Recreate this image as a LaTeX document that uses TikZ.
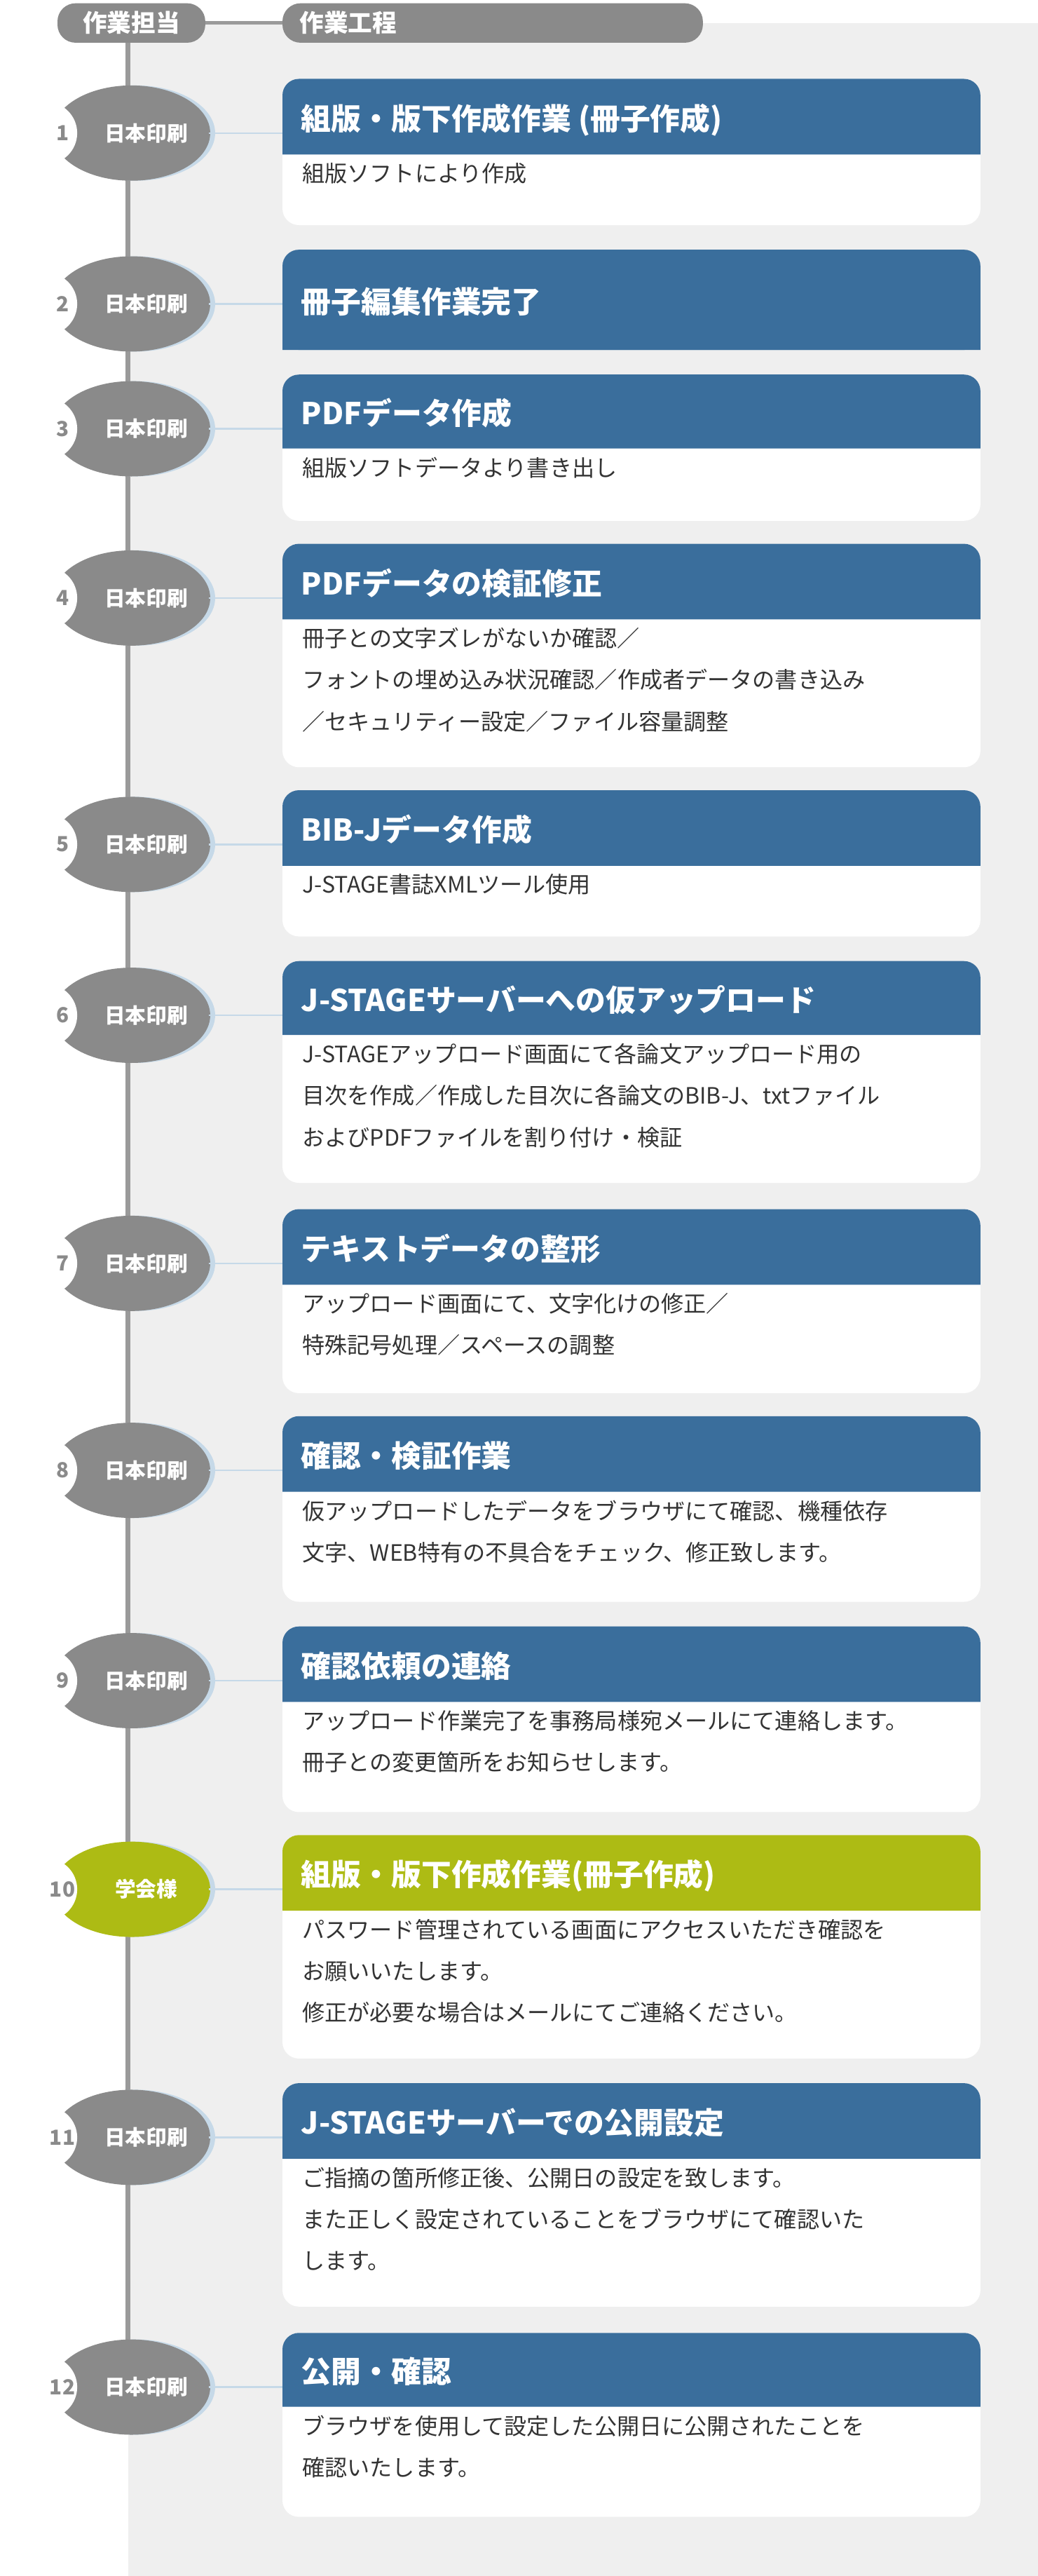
\documentclass[tikz,border=0pt]{standalone}
\usepackage{fontspec}
\setmainfont{Noto Sans CJK JP}
\usepackage{tikz}
\usetikzlibrary{positioning}
\definecolor{pillgray}{HTML}{8A8A8A}
\definecolor{linegray}{HTML}{9A9A9A}
\definecolor{bggray}{HTML}{EFEFEF}
\definecolor{stepblue}{HTML}{3A6E9C}
\definecolor{stepgreen}{HTML}{ADBB14}
\definecolor{shadowblue}{HTML}{C6D9E8}
\definecolor{bodytext}{HTML}{333333}
\tikzset{
  pilltext/.style={text=white, font=\fontsize{21}{21}\selectfont\bfseries},
  whotext/.style={text=white, font=\fontsize{18}{18}\selectfont\bfseries},
  numtext/.style={text=pillgray, font=\fontsize{18}{18}\selectfont\bfseries},
  titletext/.style={text=white, anchor=base west, font=\fontsize{26}{26}\selectfont\bfseries},
  bodytextstyle/.style={text=bodytext, anchor=north west, align=left, inner sep=0pt, font=\fontsize{19.5}{36}\selectfont},
}
% #1 number, #2 box top, #3 header bottom, #4 box bottom, #5 who, #6 box colour, #7 title, #8 body, #9 ellipse colour
\newcommand{\procstep}[9]{
  \pgfmathsetmacro{\ey}{#2+33}
  \fill[shadowblue] (83,\ey) ellipse (48 and 29);
  \fill[#9] (80,\ey) ellipse (48 and 29);
  \fill[white] (28,\ey) circle (19);
  \node[whotext] (e#1) at (89,\ey) {#5};
  \node[numtext] (n#1) at (38,\ey) {#1};
  \coordinate (c#1) at (127,\ey);
  \fill[white, rounded corners=0.5cm] (172,#2) rectangle (597,#4);
  \fill[#6] (172,#3) [rounded corners=0.5cm] -- (172,#2) -- (597,#2) [sharp corners] -- (597,#3) -- cycle;
  \node[titletext] (h#1) at (181,{(#2+#3)/2+8}) {#7};
  \node[bodytextstyle] (d#1) at (184,#3+5) {#8};
  \draw[shadowblue, line width=1.5pt] (c#1) -- (c#1 -| 172,0);
}
\begin{document}
\begin{tikzpicture}[x=0.05cm, y=-0.05cm]
\useasboundingbox (0,0) rectangle (632,1568);
\fill[bggray] (78,14) rectangle (632,1568);
% header
\draw[linegray, line width=3pt] (125,14) -- (172,14);
\draw[linegray, line width=4pt] (78,26) -- (78,1452);
\fill[pillgray, rounded corners=0.55cm] (35,2) rectangle (125,26);
\fill[pillgray, rounded corners=0.55cm] (172,2) rectangle (428,26);
\node[pilltext] (who) at (80,14) {作業担当};
\node[pilltext, anchor=west] (proc) at (180,14) {作業工程};
% steps
\procstep{1}{48}{94}{137}{日本印刷}{stepblue}{組版・版下作成作業 (冊子作成)}{組版ソフトにより作成}{pillgray}
\fill[stepblue, rounded corners=0.5cm] (172,152) rectangle (597,213);
\procstep{2}{152}{213}{213}{日本印刷}{stepblue}{冊子編集作業完了}{}{pillgray}
\procstep{3}{228}{273}{317}{日本印刷}{stepblue}{PDFデータ作成}{組版ソフトデータより書き出し}{pillgray}
\procstep{4}{331}{377}{467}{日本印刷}{stepblue}{PDFデータの検証修正}{冊子との文字ズレがないか確認／\\フォントの埋め込み状況確認／作成者データの書き込み\\／セキュリティー設定／ファイル容量調整}{pillgray}
\procstep{5}{481}{527}{570}{日本印刷}{stepblue}{BIB-Jデータ作成}{J-STAGE書誌XMLツール使用}{pillgray}
\procstep{6}{585}{630}{720}{日本印刷}{stepblue}{J-STAGEサーバーへの仮アップロード}{J-STAGEアップロード画面にて各論文アップロード用の\\目次を作成／作成した目次に各論文のBIB-J、txtファイル\\およびPDFファイルを割り付け・検証}{pillgray}
\procstep{7}{736}{782}{848}{日本印刷}{stepblue}{テキストデータの整形}{アップロード画面にて、文字化けの修正／\\特殊記号処理／スペースの調整}{pillgray}
\procstep{8}{862}{908}{975}{日本印刷}{stepblue}{確認・検証作業}{仮アップロードしたデータをブラウザにて確認、機種依存\\文字、WEB特有の不具合をチェック、修正致します。}{pillgray}
\procstep{9}{990}{1036}{1103}{日本印刷}{stepblue}{確認依頼の連絡}{アップロード作業完了を事務局様宛メールにて連絡します。\\冊子との変更箇所をお知らせします。}{pillgray}
\procstep{10}{1117}{1163}{1253}{学会様}{stepgreen}{組版・版下作成作業(冊子作成)}{パスワード管理されている画面にアクセスいただき確認を\\お願いいたします。\\修正が必要な場合はメールにてご連絡ください。}{stepgreen}
\procstep{11}{1268}{1314}{1404}{日本印刷}{stepblue}{J-STAGEサーバーでの公開設定}{ご指摘の箇所修正後、公開日の設定を致します。\\また正しく設定されていることをブラウザにて確認いた\\します。}{pillgray}
\procstep{12}{1420}{1465}{1532}{日本印刷}{stepblue}{公開・確認}{ブラウザを使用して設定した公開日に公開されたことを\\確認いたします。}{pillgray}
\end{tikzpicture}
\end{document}
